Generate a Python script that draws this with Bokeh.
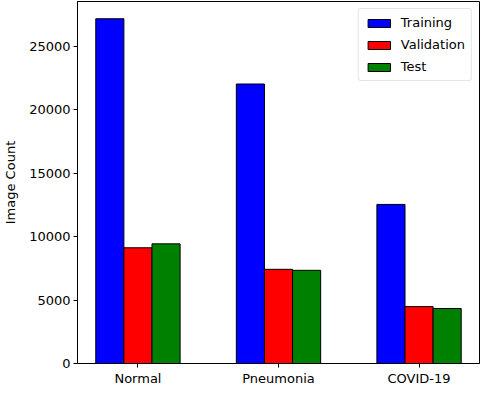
from bokeh.plotting import figure
from bokeh.models import FixedTicker, Legend, LegendItem, ColumnDataSource, Range1d
from bokeh.embed import file_html
from bokeh.resources import INLINE

categories = ["Normal", "Pneumonia", "COVID-19"]
series_names = ["Training", "Validation", "Test"]
training = [27200, 22050, 12550]
validation = [9130, 7430, 4490]
test = [9440, 7350, 4340]
y_ticks = [0, 5000, 10000, 15000, 20000, 25000]

colors = ["#0000ff", "#ff0000", "#008000"]
FONT = "DejaVu Sans"

xs = list(range(len(categories)))
bar_w = 0.2
offsets = [-bar_w, 0.0, bar_w]
ymax = max(training + validation + test) * 1.05

p = figure(width=480, height=388, output_backend="svg", toolbar_location=None,
           x_range=Range1d(-0.43, len(categories) - 1 + 0.43),
           y_range=Range1d(0, ymax),
           min_border_left=72, min_border_right=1, min_border_top=1, min_border_bottom=2)

items = []
for name, vals, off, col in zip(series_names, [training, validation, test], offsets, colors):
    src = ColumnDataSource(dict(x=[xi + off for xi in xs], top=vals))
    r = p.vbar(x="x", top="top", width=bar_w, source=src, fill_color=col,
               line_color="black", line_width=1)
    items.append(LegendItem(label=name, renderers=[r]))

p.xgrid.visible = False
p.ygrid.visible = False
p.outline_line_color = "black"
p.outline_line_width = 1
p.outline_line_alpha = 1

p.xaxis.ticker = FixedTicker(ticks=xs)
p.xaxis.major_label_overrides = {i: c for i, c in enumerate(categories)}
p.yaxis.ticker = FixedTicker(ticks=y_ticks)
p.xaxis.minor_tick_line_color = None
p.yaxis.minor_tick_line_color = None
for ax in [p.xaxis[0], p.yaxis[0]]:
    ax.major_label_text_font = FONT
    ax.major_label_text_font_size = "13px"
    ax.major_label_text_color = "black"
    ax.axis_line_color = "black"
    ax.major_tick_line_color = "black"
    ax.major_tick_in = 0
    ax.major_tick_out = 4
    ax.major_label_standoff = 3

p.yaxis.axis_label = "Image Count"
p.yaxis.axis_label_text_font = FONT
p.yaxis.axis_label_text_font_size = "13px"
p.yaxis.axis_label_text_font_style = "normal"
p.yaxis.axis_label_text_color = "black"
p.yaxis.axis_label_standoff = 8

legend = Legend(items=items, location="top_right")
legend.label_text_font = FONT
legend.label_text_font_size = "13px"
legend.label_text_color = "black"
legend.glyph_width = 28
legend.glyph_height = 10
legend.label_height = 14
legend.label_standoff = 8
legend.spacing = 7
legend.padding = 6
legend.margin = 7
legend.border_line_color = "#cccccc"
legend.border_line_width = 1
legend.border_radius = 3
legend.background_fill_alpha = 0.8
p.add_layout(legend)

open("out.html", "w").write(file_html(p, INLINE))
